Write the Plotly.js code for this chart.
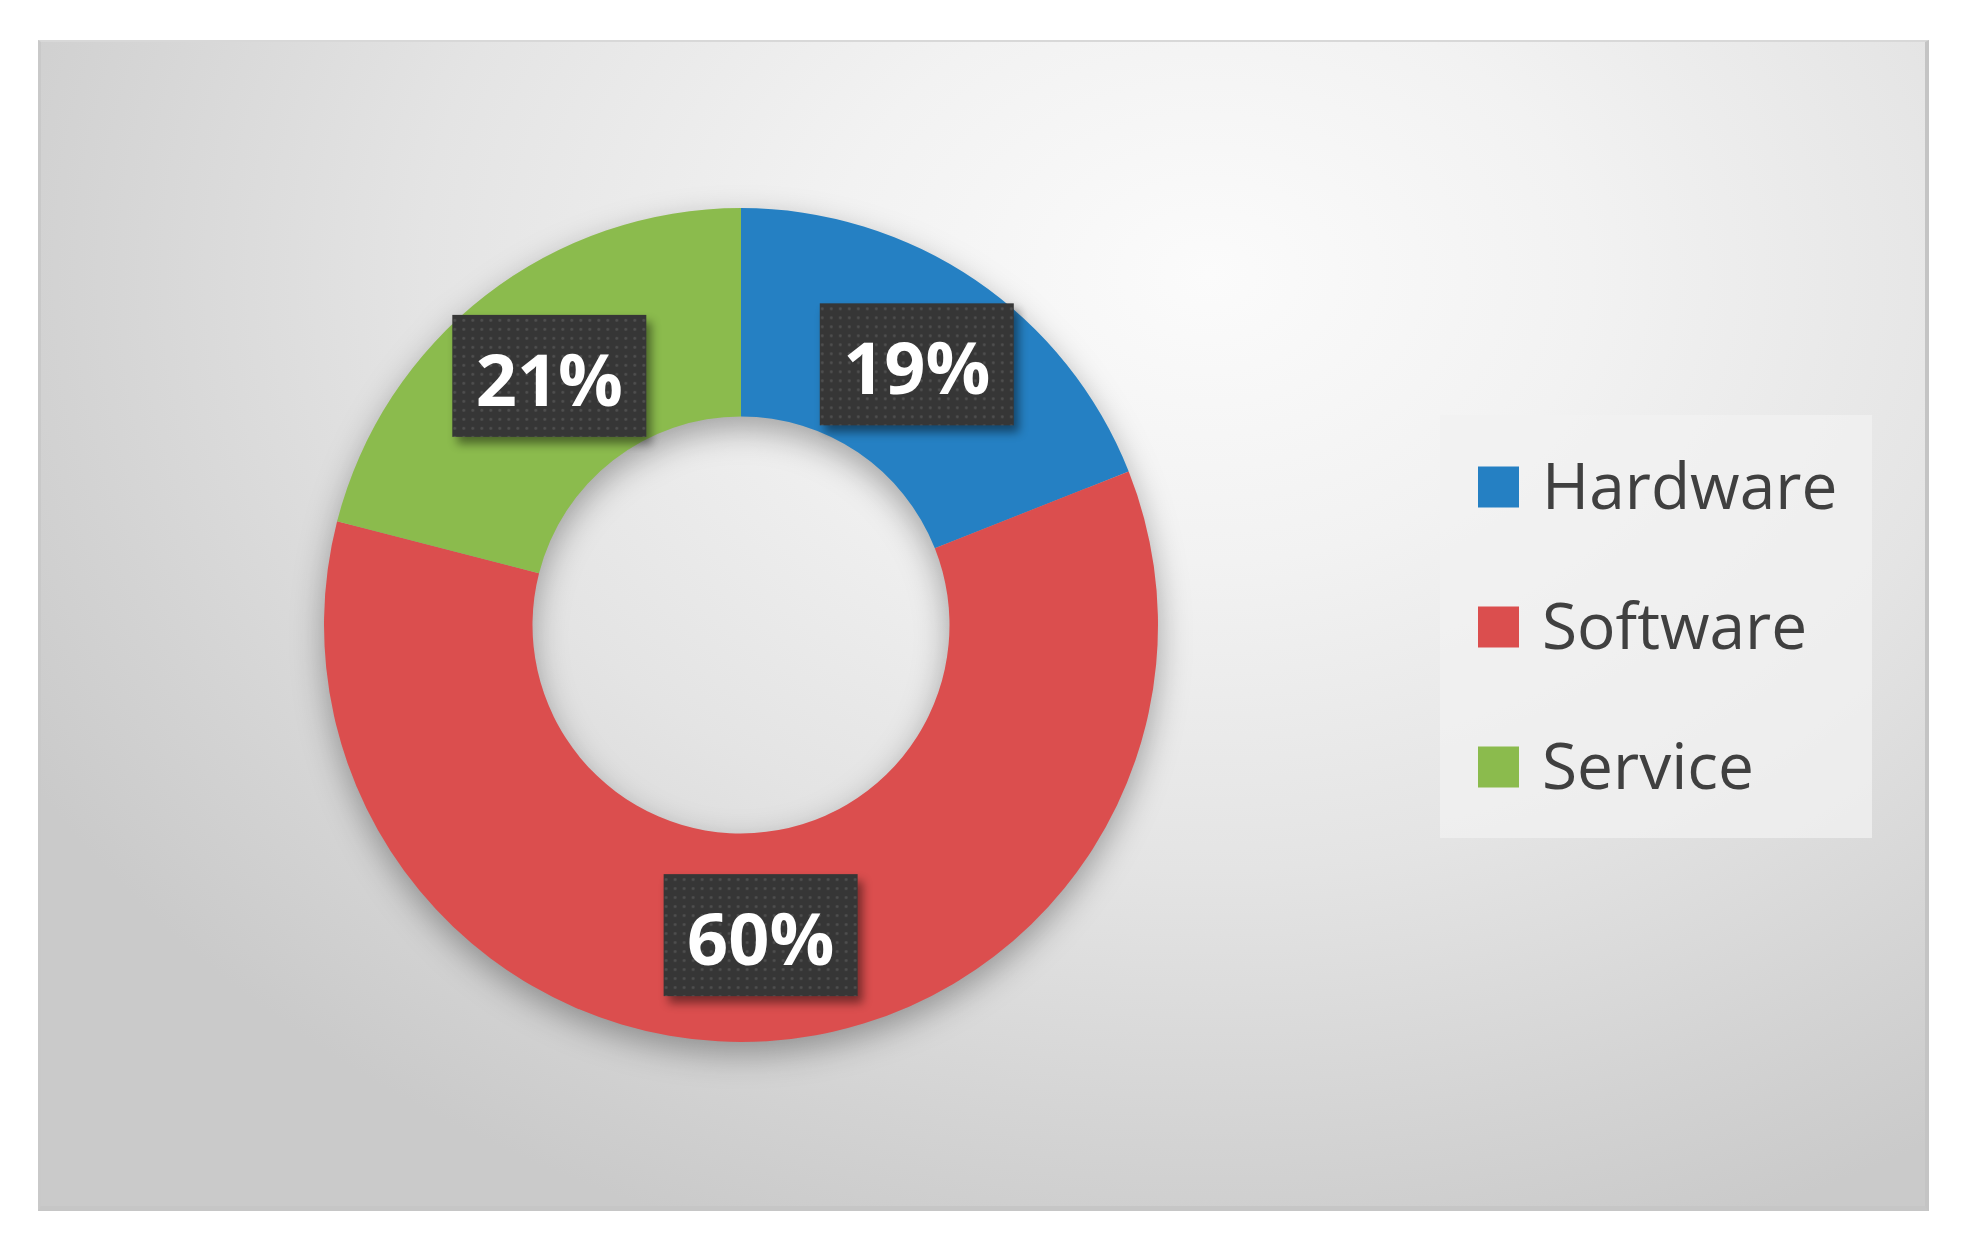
<!DOCTYPE html>
<html><head><meta charset="utf-8">
<script src="https://cdn.plot.ly/plotly-3.0.1.min.js"></script>
<style>
html,body{margin:0;padding:0;background:#ffffff;overflow:hidden;}
#panel{position:absolute;left:38px;top:40px;width:1891px;height:1171px;box-sizing:border-box;
  background: radial-gradient(ellipse 72% 88% at 62% 20%, #fbfbfb 0%, #f2f2f2 28%, #e4e4e4 58%, #d3d3d3 85%, #cacaca 100%);
  border-top:2px solid #d8d8d8;border-left:3px solid #c9c9c9;border-right:4px solid #c4c4c4;border-bottom:5px solid #c6c6c6;}
#chart{position:absolute;left:0;top:0;width:1961px;height:1245px;}
.pielayer .trace{filter:drop-shadow(0px 12px 16px rgba(0,0,0,0.32));}
</style></head><body>
<div id="panel"></div><div id="chart"></div>
<script>
// ---- data ----
const categories = ['Hardware', 'Software', 'Service'];
const shares = [19, 60, 21];
const sliceColors = ['#2580C3', '#DB4E4E', '#8BBB4D'];

// ---- geometry helpers (pixels -> paper) ----
const W = 1961, H = 1245;
const px = x => x / W;
const py = y => 1 - y / H;

const cx = 741, cy = 625, R = 417;

const data = [{
  type: 'pie',
  labels: categories,
  values: shares,
  hole: 0.5,
  sort: false,
  direction: 'clockwise',
  rotation: 0,
  marker: {colors: sliceColors, line: {width: 0}},
  texttemplate: '%{percent:.0%}',
  textposition: 'inside',
  insidetextorientation: 'horizontal',
  textfont: {family: 'Open Sans', size: 72, color: '#ffffff', weight: 'bold'},
  domain: {x: [px(cx - R), px(cx + R)], y: [py(cy + R), py(cy - R)]},
  showlegend: false,
  hoverinfo: 'none'
}];

// legend drawn as layout shapes + annotations
const legendBox = {x0: 1440, y0: 415, x1: 1872, y1: 838};
const legendFirstY = 487, legendStep = 140, swatch = 41, swatchX = 1478, textX = 1540;

const shapes = [{
  type: 'rect', xref: 'paper', yref: 'paper',
  x0: px(legendBox.x0), x1: px(legendBox.x1), y0: py(legendBox.y1), y1: py(legendBox.y0),
  fillcolor: 'rgba(242,242,242,0.75)', line: {width: 0}, layer: 'below'
}];
const annotations = [];
categories.forEach((c, i) => {
  const yc = legendFirstY + i * legendStep;
  shapes.push({
    type: 'rect', xref: 'paper', yref: 'paper',
    x0: px(swatchX), x1: px(swatchX + swatch), y0: py(yc + swatch / 2), y1: py(yc - swatch / 2),
    fillcolor: sliceColors[i], line: {width: 0}
  });
  annotations.push({
    xref: 'paper', yref: 'paper', x: px(textX), y: py(yc - 3), xanchor: 'left', yanchor: 'middle',
    text: c, showarrow: false,
    font: {family: 'Open Sans', size: 64, color: '#404040'}
  });
});

const layout = {
  width: W, height: H,
  margin: {l: 0, r: 0, t: 0, b: 0, pad: 0},
  paper_bgcolor: 'rgba(0,0,0,0)',
  plot_bgcolor: 'rgba(0,0,0,0)',
  showlegend: false,
  shapes: shapes,
  annotations: annotations
};

Plotly.newPlot('chart', data, layout, {staticPlot: true, displayModeBar: false}).then(gd => {
  const ns = 'http://www.w3.org/2000/svg';
  const svg = gd.querySelector('svg.main-svg');
  let defs = svg.querySelector('defs');
  if (!defs) { defs = document.createElementNS(ns, 'defs'); svg.insertBefore(defs, svg.firstChild); }
  const pat = document.createElementNS(ns, 'pattern');
  pat.setAttribute('id', 'dotpat');
  pat.setAttribute('patternUnits', 'userSpaceOnUse');
  pat.setAttribute('width', '9'); pat.setAttribute('height', '9');
  const bg = document.createElementNS(ns, 'rect');
  bg.setAttribute('width', '9'); bg.setAttribute('height', '9'); bg.setAttribute('fill', '#363636');
  const dot = document.createElementNS(ns, 'circle');
  dot.setAttribute('cx', '4.5'); dot.setAttribute('cy', '4.5'); dot.setAttribute('r', '1.4'); dot.setAttribute('fill', '#505050');
  pat.appendChild(bg); pat.appendChild(dot); defs.appendChild(pat);

  const boxW = 194, boxH = 122;
  gd.querySelectorAll('.pielayer text.slicetext').forEach(t => {
    const bb = t.getBBox();
    const mx = bb.x + bb.width / 2, my = bb.y + bb.height / 2;
    const r = document.createElementNS(ns, 'rect');
    r.setAttribute('x', mx - boxW / 2);
    r.setAttribute('y', my - boxH / 2 - 2);
    r.setAttribute('width', boxW);
    r.setAttribute('height', boxH);
    r.setAttribute('fill', 'url(#dotpat)');
    const tr = t.getAttribute('transform');
    if (tr) r.setAttribute('transform', tr);
    r.style.filter = 'drop-shadow(5px 7px 5px rgba(0,0,0,0.45))';
    t.parentNode.insertBefore(r, t);
  });
});
</script>
</body></html>
